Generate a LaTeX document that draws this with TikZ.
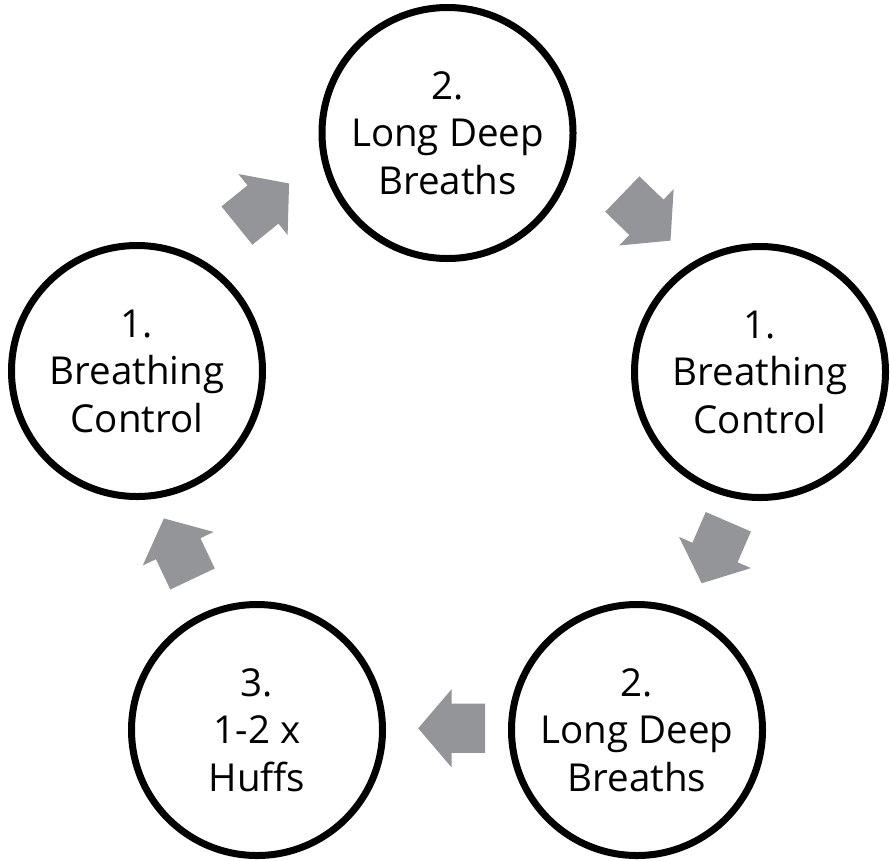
\documentclass[tikz,border=0pt]{standalone}
\usepackage{fontspec}
\setmainfont{Open Sans}
\definecolor{arrowgrey}{RGB}{148,149,153}
\tikzset{
  stepcircle/.style={circle, draw=black, line width=7pt, minimum size=251pt, inner sep=0pt,
    align=center, font=\fontsize{38.5}{47.5}\selectfont, fill=white},
  blockarrow/.pic={\fill[arrowgrey] (-33.5,-24.6) -- (0,-24.6) -- (0,-39.2) -- (33.5,0)
    -- (0,39.2) -- (0,24.6) -- (-33.5,24.6) -- cycle;}
}
\begin{document}
\begin{tikzpicture}[x=1pt,y=1pt]
\fill[white] (0,0) rectangle (890,-860);
\useasboundingbox (0,0) rectangle (890,-860);
% circles
\node[stepcircle] (top) at (447.5,-133) {2.\\Long Deep\\Breaths};
\node[stepcircle] (right) at (760,-372) {1.\\Breathing\\Control};
\node[stepcircle] (bright) at (637,-730) {2.\\Long Deep\\Breaths};
\node[stepcircle] (bleft) at (257,-730) {3.\\1-2 x\\Huffs};
\node[stepcircle] (left) at (137,-371) {1.\\Breathing\\Control};
% block arrows
\pic[rotate=38.9] (a1) at (263,-204.5) {blockarrow};
\pic[rotate=-44] (a2) at (646.4,-217.3) {blockarrow};
\pic[rotate=-113.4] (a3) at (715,-552.5) {blockarrow};
\pic[rotate=180] (a4) at (451.7,-728.3) {blockarrow};
\pic[rotate=115.3] (a5) at (178.2,-548.7) {blockarrow};
\end{tikzpicture}
\end{document}
